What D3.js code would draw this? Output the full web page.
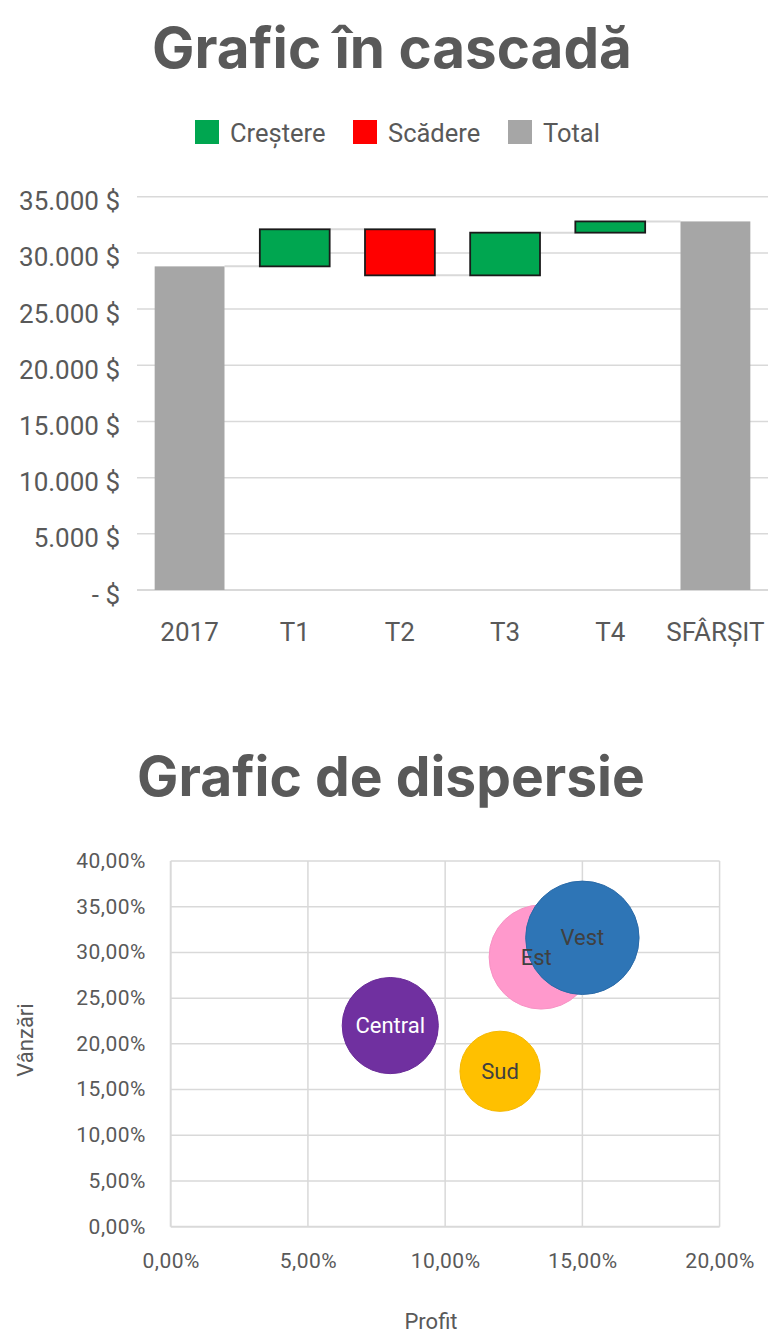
<!DOCTYPE html>
<html><head><meta charset="utf-8">
<script src="https://cdn.jsdelivr.net/npm/d3@7"></script>
<style>
html,body{margin:0;padding:0;background:#fff;}
svg{display:block;}
text{font-family:Roboto,"Noto Sans",sans-serif;fill:#595959;}
</style></head>
<body>
<svg id="c" width="784" height="1337"></svg>
<script>
// ---------- Waterfall data ----------
const wfCategories = ["2017","T1","T2","T3","T4","SFÂRȘIT"];
const wfValues = [28800, 3300, -4100, 3800, 1000, 32800];
const wfTypes = ["total","up","down","up","up","total"];
const wfTicks = [0,5000,10000,15000,20000,25000,30000,35000];
const legendLabels = ["Creștere","Scădere","Total"];

// ---------- Scatter data ----------
const regions = ["Central","Sud","Est","Vest"];
const profit = [0.08, 0.12, 0.135, 0.15];
const sales = [0.22, 0.17, 0.295, 0.316];
const bubbleSize = [23, 16, 27, 32];
const xTicks = [0,0.05,0.10,0.15,0.20];
const yTicks = [0,0.05,0.10,0.15,0.20,0.25,0.30,0.35,0.40];

const colors = {up:"#00a650", down:"#ff0000", total:"#a6a6a6"};
const bubbleColors = ["#7030a0","#ffc000","#ff99cc","#2e75b6"];
const bubbleStroke = ["#6a2c98","#f5b800","#f792c4","#2a6aa8"];
const labelColors = ["#ffffff","#404040","#404040","#404040"];

const loc = d3.formatLocale({decimal:",", thousands:".", grouping:[3], currency:["",""]});
const svg = d3.select("#c");
const grid = "#d9d9d9";

function fitTitle(sel, targetW){
  const w = sel.node().getComputedTextLength();
  const fs = parseFloat(sel.attr("font-size"));
  sel.attr("font-size", fs*targetW/w);
}

// ---------- Waterfall ----------
const t1 = svg.append("text").attr("x",392).attr("y",68).attr("text-anchor","middle")
  .attr("font-size",46).attr("font-weight",700).style("font-family","Inter, 'DejaVu Sans', sans-serif")
  .text("Grafic în cascadă");
fitTitle(t1, 480);

const legX = [195,353,508];
const legTypes = ["up","down","total"];
legendLabels.forEach((l,i)=>{
  svg.append("rect").attr("x",legX[i]).attr("y",120).attr("width",24).attr("height",24).attr("fill",colors[legTypes[i]]);
  svg.append("text").attr("x",legX[i]+35).attr("y",142).attr("font-size",25.5).text(l);
});

const x = d3.scaleBand().domain(wfCategories).range([137,768]).paddingInner(0.336).paddingOuter(0.168);
const y = d3.scaleLinear().domain([0,35000]).range([590,196.7]);

const gW = svg.append("g");
gW.selectAll("line.g").data(wfTicks).join("line")
  .attr("x1",137).attr("x2",768).attr("y1",d=>y(d)).attr("y2",d=>y(d))
  .attr("stroke",grid).attr("stroke-width",d=>d===0?2:1.5);

const yAx = d3.axisLeft(y).tickValues(wfTicks).tickSize(0).tickPadding(0)
  .tickFormat(d=> d===0 ? "- $" : loc.format(",")(d)+" $");
const ya = svg.append("g").attr("transform","translate(120,0)").call(yAx);
ya.select(".domain").remove();
ya.selectAll("text").attr("font-size",26).attr("fill","#595959").attr("dy","0.5em").style("font-family","Roboto");

const xAx = d3.axisBottom(x).tickSize(0).tickPadding(0);
const xa = svg.append("g").attr("transform","translate(0,623)").call(xAx);
xa.select(".domain").remove();
xa.selectAll("text").attr("font-size",26).attr("fill","#595959").attr("dy","0.71em").style("font-family","Roboto");

// compute bars
let run = 0;
const bars = wfCategories.map((c,i)=>{
  let lo, hi, end;
  if (wfTypes[i]==="total"){ lo=0; hi=wfValues[i]; end=wfValues[i]; }
  else { const s=run, e=run+wfValues[i]; lo=Math.min(s,e); hi=Math.max(s,e); end=e; }
  run = end;
  return {c, lo, hi, end, type:wfTypes[i]};
});
// connectors
for (let i=0;i<bars.length-1;i++){
  gW.append("line").attr("x1",x(bars[i].c)+x.bandwidth()).attr("x2",x(bars[i+1].c))
    .attr("y1",y(bars[i].end)).attr("y2",y(bars[i].end))
    .attr("stroke",grid).attr("stroke-width",2);
}
gW.selectAll("rect.bar").data(bars).join("rect")
  .attr("x",d=>x(d.c)).attr("width",x.bandwidth())
  .attr("y",d=>y(d.hi)).attr("height",d=>y(d.lo)-y(d.hi))
  .attr("fill",d=>colors[d.type])
  .attr("stroke",d=>d.type==="total"?"none":"#1a1a1a")
  .attr("stroke-width",1.8);

// ---------- Scatter ----------
const t2 = svg.append("text").attr("x",391).attr("y",796).attr("text-anchor","middle")
  .attr("font-size",46).attr("font-weight",700).style("font-family","Inter, 'DejaVu Sans', sans-serif")
  .text("Grafic de dispersie");
fitTitle(t2, 508);

const sx = d3.scaleLinear().domain([0,0.20]).range([170.7,719.6]);
const sy = d3.scaleLinear().domain([0,0.40]).range([1226.7,861]);
const r = d3.scaleSqrt().domain([0,32]).range([0,56.7]);

const gS = svg.append("g");
gS.selectAll("line.h").data(yTicks).join("line")
  .attr("x1",sx(0)).attr("x2",sx(0.20)).attr("y1",d=>sy(d)).attr("y2",d=>sy(d))
  .attr("stroke",grid).attr("stroke-width",d=>d===0?2:1.5);
gS.selectAll("line.v").data(xTicks).join("line")
  .attr("y1",sy(0)).attr("y2",sy(0.40)).attr("x1",d=>sx(d)).attr("x2",d=>sx(d))
  .attr("stroke",grid).attr("stroke-width",d=>d===0?2:1.5);

const pf = loc.format(".2%");
const sya = svg.append("g").attr("transform","translate(146,0)")
  .call(d3.axisLeft(sy).tickValues(yTicks).tickSize(0).tickPadding(0).tickFormat(pf));
sya.select(".domain").remove();
sya.selectAll("text").attr("font-size",21).attr("fill","#595959").attr("dy","0.3em").style("font-family","Roboto").style("letter-spacing","0.5px");

const sxa = svg.append("g").attr("transform","translate(0,1253)")
  .call(d3.axisBottom(sx).tickValues(xTicks).tickSize(0).tickPadding(0).tickFormat(pf));
sxa.select(".domain").remove();
sxa.selectAll("text").attr("font-size",21).attr("fill","#595959").attr("dy","0.71em").style("font-family","Roboto").style("letter-spacing","0.5px");

svg.append("text").attr("x",431).attr("y",1329).attr("text-anchor","middle").attr("font-size",22).text("Profit");
svg.append("text").attr("transform","translate(33,1040) rotate(-90)").attr("text-anchor","middle").attr("font-size",22).text("Vânzări");

const pts = regions.map((n,i)=>({n, x:profit[i], y:sales[i], s:bubbleSize[i], i}));
gS.selectAll("circle").data(pts).join("circle")
  .attr("cx",d=>sx(d.x)).attr("cy",d=>sy(d.y)).attr("r",d=>r(d.s))
  .attr("fill",d=>bubbleColors[d.i]).attr("stroke",d=>bubbleStroke[d.i]).attr("stroke-width",1);
gS.selectAll("text.lbl").data(pts).join("text")
  .attr("x",d=>sx(d.x)-(d.n==="Est"?5:0)).attr("y",d=>sy(d.y)).attr("dy","0.35em")
  .attr("text-anchor","middle").attr("font-size",22)
  .style("fill",d=>labelColors[d.i]).text(d=>d.n);
</script>
</body></html>
